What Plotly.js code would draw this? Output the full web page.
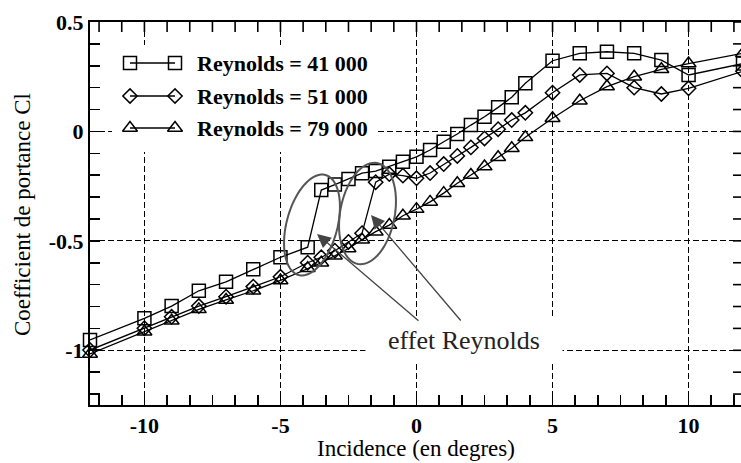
<!DOCTYPE html>
<html><head><meta charset="utf-8">
<script src="https://cdn.plot.ly/plotly-3.0.1.min.js"></script>
<style>html,body{margin:0;padding:0;overflow:hidden;background:#fff}#chart{width:743px;height:463px}</style>
</head><body><div id="chart"></div>
<script>
// ---- data ----
const incidence = [-12, -10, -9, -8, -7, -6, -5, -4, -3.5, -3, -2.5, -2, -1.5, -1, -0.5, 0, 0.5, 1, 1.5, 2, 2.5, 3, 3.5, 4, 5, 6, 7, 8, 9, 10, 12];
const cl41 = [-0.953, -0.854, -0.798, -0.728, -0.687, -0.630, -0.575, -0.529, -0.268, -0.243, -0.217, -0.191, -0.181, -0.161, -0.138, -0.116, -0.085, -0.047, -0.012, 0.029, 0.067, 0.110, 0.156, 0.220, 0.323, 0.357, 0.364, 0.357, 0.326, 0.258, 0.31];
const cl51 = [-0.999, -0.899, -0.847, -0.798, -0.755, -0.709, -0.664, -0.600, -0.575, -0.545, -0.505, -0.465, -0.232, -0.195, -0.202, -0.214, -0.190, -0.149, -0.112, -0.073, -0.032, 0.010, 0.052, 0.085, 0.177, 0.258, 0.265, 0.200, 0.171, 0.197, 0.275];
const cl79 = [-1.017, -0.915, -0.865, -0.813, -0.770, -0.728, -0.681, -0.625, -0.600, -0.568, -0.535, -0.495, -0.458, -0.428, -0.385, -0.355, -0.322, -0.282, -0.237, -0.199, -0.160, -0.118, -0.077, -0.027, 0.060, 0.140, 0.205, 0.250, 0.284, 0.310, 0.357];
const seriesNames = ['Reynolds = 41 000', 'Reynolds = 51 000', 'Reynolds = 79 000'];
const seriesSymbols = ['square-open', 'diamond-open', 'triangle-up-open'];
const xTickVals = [-10, -5, 0, 5, 10];
const xTickText = ['-10', '-5', '0', '5', '10'];
const yTickVals = [-1, -0.5, 0, 0.5];
const yTickText = ['-1', '-0.5', '0', '0.5'];
const xTitle = 'Incidence (en degres)';
const yTitle = 'Coefficient de portance Cl';
const noteText = 'effet Reynolds';

// ---- geometry helpers (layout only) ----
const W = 743, H = 463, M = {l: 90, r: 0, t: 22, b: 58};
const XR = [-12, 12], YR = [-1.25, 0.5];
const X_MINOR = 5 / 6, Y_MINOR = 0.1, TICKLEN = 10, TICKW = 1.6;
const pw = W - M.l - M.r, ph = H - M.t - M.b;
const px2x = px => XR[0] + (px - M.l) / pw * (XR[1] - XR[0]);
const py2y = py => YR[1] - (py - M.t) / ph * (YR[1] - YR[0]);
const px2paper = px => (px - M.l) / pw;
const py2paper = py => (H - M.b - py) / ph;

const FONT = 'Liberation Serif, Times New Roman, serif';
const sizes = [13, 11, 13];

function ellipsePath(cx, cy, a, b, deg) {
  const th = deg * Math.PI / 180;
  const d = [Math.sin(th), -Math.cos(th)], n = [Math.cos(th), Math.sin(th)];
  let p = '';
  for (let i = 0; i <= 72; i++) {
    const t = i / 72 * 2 * Math.PI;
    const u = a * Math.cos(t), v = b * Math.sin(t);
    const X = px2x(cx + u * d[0] + v * n[0]);
    const Y = py2y(cy + u * d[1] + v * n[1]);
    p += (i === 0 ? 'M' : 'L') + X + ',' + Y;
  }
  return p + 'Z';
}

// mirrored (top / right) inside tick marks, drawn as one line trace
const mtX = [], mtY = [];
for (let k = Math.ceil(XR[0] / X_MINOR); k <= Math.floor(XR[1] / X_MINOR); k++) {
  const xv = k * X_MINOR;
  mtX.push(xv, xv, null); mtY.push(YR[1], py2y(M.t + TICKLEN), null);
}
for (let k = Math.ceil(YR[0] / Y_MINOR - 1e-9); k <= Math.floor(YR[1] / Y_MINOR + 1e-9); k++) {
  const yv = k * Y_MINOR;
  mtX.push(XR[1], px2x(W - M.r - TICKLEN), null); mtY.push(yv, yv, null);
}
const traces = [{
  x: mtX, y: mtY, type: 'scatter', mode: 'lines', line: {color: 'black', width: TICKW},
  connectgaps: false, cliponaxis: false, showlegend: false, hoverinfo: 'skip'
}];

const ys = [cl41, cl51, cl79];
ys.forEach((y, i) => traces.push({
  x: incidence, y: y, type: 'scatter', mode: 'lines+markers', name: seriesNames[i],
  line: {color: 'black', width: 1.3},
  marker: {symbol: seriesSymbols[i], size: sizes[i], color: 'black', line: {width: 1.5, color: 'black'}},
  cliponaxis: false, showlegend: false, hoverinfo: 'skip'
}));

// custom legend samples (two markers joined by a line)
const rows = [63, 96, 128];
rows.forEach((r, i) => {
  traces.push({
    x: [px2x(130), px2x(175)], y: [py2y(r), py2y(r)], type: 'scatter', mode: 'lines+markers',
    line: {color: 'black', width: 1.3},
    marker: {symbol: seriesSymbols[i], size: sizes[i], color: 'black', line: {width: 1.5, color: 'black'}},
    cliponaxis: false, showlegend: false, hoverinfo: 'skip'
  });
});

const annotations = seriesNames.map((s, i) => ({
  x: px2x(195), y: py2y(rows[i]), xref: 'x', yref: 'y', xanchor: 'left', yanchor: 'middle',
  text: s, showarrow: false, font: {family: FONT, size: 22, weight: 'bold', color: 'black'}
}));
annotations.push({
  x: px2x(464), y: py2y(340), xref: 'x', yref: 'y', text: noteText, showarrow: false,
  font: {family: FONT, size: 26, color: '#222'}, bgcolor: 'white', borderpad: 8, width: 180
});
[[317, 234, 420, 322], [371, 215, 462, 322]].forEach(a => {
  annotations.push({
    x: px2x(a[0]), y: py2y(a[1]), ax: px2x(a[2]), ay: py2y(a[3]),
    xref: 'x', yref: 'y', axref: 'x', ayref: 'y', text: '', showarrow: true,
    arrowhead: 2, arrowsize: 2.1, arrowwidth: 1.3, arrowcolor: '#444', standoff: 0
  });
});
// axis titles
annotations.push({
  x: px2paper(416), y: py2paper(449), xref: 'paper', yref: 'paper', xanchor: 'center', yanchor: 'middle',
  text: xTitle, showarrow: false, font: {family: FONT, size: 23, color: 'black'}
});
annotations.push({
  x: px2paper(22), y: py2paper(215), xref: 'paper', yref: 'paper', xanchor: 'center', yanchor: 'middle',
  text: yTitle, textangle: -90, showarrow: false, font: {family: FONT, size: 23, color: 'black'}
});

const shapes = [
  {type: 'rect', xref: 'x', yref: 'y', x0: px2x(112), x1: px2x(378), y0: py2y(152), y1: py2y(45),
   fillcolor: 'white', line: {width: 0}, layer: 'between'},
  {type: 'path', xref: 'x', yref: 'y', path: ellipsePath(312, 225, 51.8, 25.4, 15), line: {color: '#555', width: 2}, layer: 'above'},
  {type: 'path', xref: 'x', yref: 'y', path: ellipsePath(367.5, 213.5, 51.4, 27.3, 10.7), line: {color: '#555', width: 2}, layer: 'above'}
];

const tickFont = {family: FONT, size: 22, weight: 'bold', color: 'black'};
const axisCommon = {
  showline: true, linecolor: 'black', linewidth: 2, mirror: true,
  ticks: 'inside', ticklen: TICKLEN, tickwidth: TICKW, tickcolor: 'black',
  showgrid: true, gridcolor: 'black', gridwidth: 1, griddash: '6px,3px',
  zeroline: false, tickmode: 'array', tickfont: tickFont, fixedrange: true
};

const layout = {
  width: W, height: H, margin: M, paper_bgcolor: 'white', plot_bgcolor: 'white',
  showlegend: false,
  xaxis: Object.assign({}, axisCommon, {
    range: XR, tickvals: xTickVals, ticktext: xTickText,
    minor: {tick0: 0, dtick: X_MINOR, ticks: 'inside', ticklen: TICKLEN, tickwidth: TICKW, tickcolor: 'black', showgrid: false}
  }),
  yaxis: Object.assign({}, axisCommon, {
    range: YR, tickvals: yTickVals, ticktext: yTickText,
    minor: {tick0: 0, dtick: Y_MINOR, ticks: 'inside', ticklen: TICKLEN, tickwidth: TICKW, tickcolor: 'black', showgrid: false}
  }),
  annotations: annotations, shapes: shapes
};

Plotly.newPlot('chart', traces, layout, {displayModeBar: false, staticPlot: true});
</script>
</body></html>
